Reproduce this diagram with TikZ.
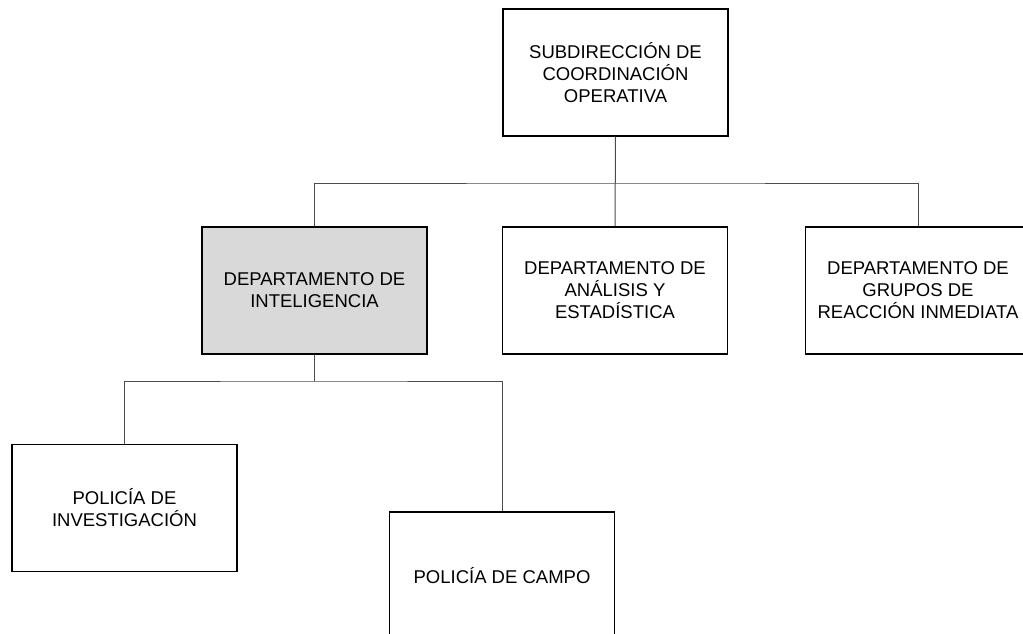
\documentclass[tikz,border=0pt]{standalone}
\usepackage{fontspec}
\setmainfont{Liberation Sans}
\begin{document}
\begin{tikzpicture}[x=1pt,y=1pt,
  unitbox/.style={draw=black,line width=1.4pt,minimum width=225pt,minimum height=127pt,inner sep=0pt,align=center,font=\fontsize{18.5}{22}\selectfont},
  link/.style={draw=black!70,line width=1pt}]
\useasboundingbox (0,0) rectangle (1023,-634);
\clip (0,0) rectangle (1023,-634);
\node[unitbox] (top) at (615.5,-72.5) {SUBDIRECCIÓN DE\\COORDINACIÓN\\OPERATIVA};
\node[unitbox,fill=gray!30] (intel) at (314.5,-290.5) {DEPARTAMENTO DE\\INTELIGENCIA};
\node[unitbox] (mid) at (615,-290.5) {DEPARTAMENTO DE\\ANÁLISIS Y\\ESTADÍSTICA};
\node[unitbox] (right) at (918,-290.5) {DEPARTAMENTO DE\\GRUPOS DE\\REACCIÓN INMEDIATA};
\node[unitbox] (bl) at (124.5,-508) {POLICÍA DE\\INVESTIGACIÓN};
\node[unitbox] (bm) at (502,-575.5) {POLICÍA DE CAMPO};
\coordinate (bus1) at (615,-183);
\coordinate (bus2) at (314.5,-381);
\draw[link] (top.south) -- (mid.north);
\draw[link] (intel.north) |- (bus1) -| (right.north);
\draw[link] (intel.south) -- (bus2);
\draw[link] (bl.north) |- (bus2) -| (bm.north);
\end{tikzpicture}
\end{document}
